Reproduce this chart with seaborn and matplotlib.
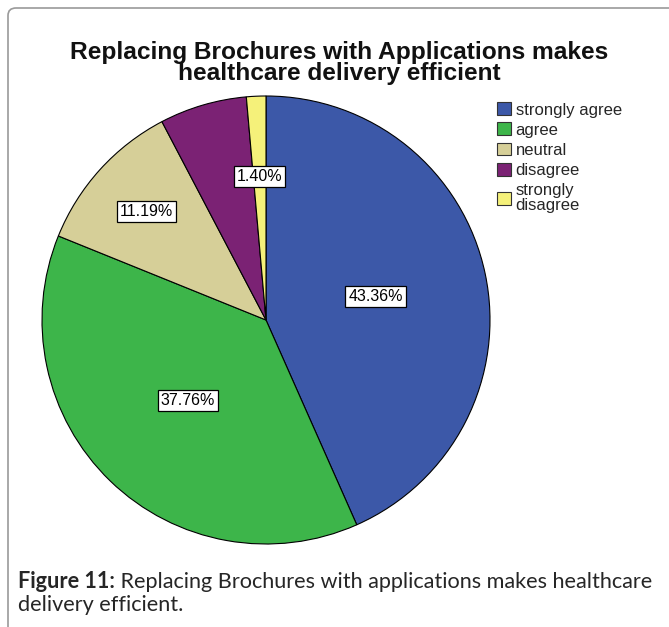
import numpy as np
import matplotlib
matplotlib.use("Agg")
import matplotlib.pyplot as plt
from matplotlib.patches import FancyBboxPatch
import seaborn as sns

categories = ["strongly agree", "agree", "neutral", "disagree", "strongly\ndisagree"]
percentages = [43.36, 37.76, 11.19, 6.29, 1.40]
shown_labels = ["43.36%", "37.76%", "11.19%", "", "1.40%"]
colors = ["#3C58A8", "#3DB54A", "#D6CF98", "#7B2274", "#F5F17A"]
title = "Replacing Brochures with Applications makes\nhealthcare delivery efficient"
caption_bold = "Figure 11:"
caption_rest = " Replacing Brochures with applications makes healthcare"
caption_line2 = "delivery efficient."

sns.set_theme(style="white")
plt.rcParams['font.family'] = ['Liberation Sans', 'DejaVu Sans']

W, H = 669, 627
fig = plt.figure(figsize=(W / 100, H / 100), dpi=100)
fig.patch.set_facecolor("white")
renderer = fig.canvas.get_renderer()

# panel border
border = FancyBboxPatch((8 / W, -20 / H), (W + 30) / W, (H + 20 - 8) / H,
                        boxstyle="round,pad=0,rounding_size=0.012",
                        transform=fig.transFigure, fill=False,
                        edgecolor="#9a9a9a", linewidth=1.2)
fig.patches.append(border)

cx, cy, r = 266, H - 320, 224
ax = fig.add_axes([(cx - r) / W, (cy - r) / H, 2 * r / W, 2 * r / H])
palette = sns.color_palette(colors)
wedges, _ = ax.pie(percentages, colors=palette, startangle=90, counterclock=False,
                   wedgeprops=dict(edgecolor="black", linewidth=0.8))
ax.set_xlim(-1, 1)
ax.set_ylim(-1, 1)
ax.set_aspect("auto")
ax.axis("off")

label_radius = [0.50, 0.50, 0.72, 0.60, 0.64]
for w, lab, lr in zip(wedges, shown_labels, label_radius):
    if not lab:
        continue
    th = np.deg2rad((w.theta1 + w.theta2) / 2)
    ax.text(lr * np.cos(th), lr * np.sin(th), lab, ha="center", va="center",
            fontsize=11.5, color="black",
            bbox=dict(boxstyle="square,pad=0.18", facecolor="white",
                      edgecolor="black", linewidth=0.9))

# title: one text object, width fitted to the reference
tt = fig.text(339 / W, 1 - 63 / H, title, ha="center", va="center",
              fontsize=17, fontweight="bold", color="#111111", linespacing=0.88)
first = fig.text(0, 0, title.split("\n")[0], fontsize=17, fontweight="bold")
w1 = first.get_window_extent(renderer=renderer).width
first.remove()
tt.set_fontsize(17 * 538 / w1)

handles = [plt.Rectangle((0, 0), 1, 1, facecolor=c, edgecolor="#333333", linewidth=0.8)
           for c in colors]
leg = fig.legend(handles, categories, loc="upper left",
                 bbox_to_anchor=(489 / W, 1 - 94 / H), frameon=False,
                 fontsize=12, handlelength=0.8, handleheight=0.8,
                 handletextpad=0.3, labelspacing=0.3, borderpad=0)
for t in leg.get_texts():
    t.set_linespacing(1.0)

cap_font = ["Lato", "DejaVu Sans"]
cb = fig.text(18 / W, 1 - 582 / H, caption_bold, ha="left", va="center",
              fontsize=14, fontweight="bold", family=cap_font)
bb = cb.get_window_extent(renderer=renderer)
cr = fig.text(bb.x1 / W, 1 - 582 / H, caption_rest, ha="left", va="center",
              fontsize=14, family=cap_font)
total = cr.get_window_extent(renderer=renderer).x1 - 18
scale = 637 / total
cb.set_fontsize(14 * scale)
bb = cb.get_window_extent(renderer=renderer)
cr.set_fontsize(14 * scale)
cr.set_x(bb.x1 / W)
fig.text(18 / W, 1 - 605 / H, caption_line2, ha="left", va="center",
         fontsize=14 * scale, family=cap_font)

fig.savefig("out.png", dpi=100, facecolor="white")
